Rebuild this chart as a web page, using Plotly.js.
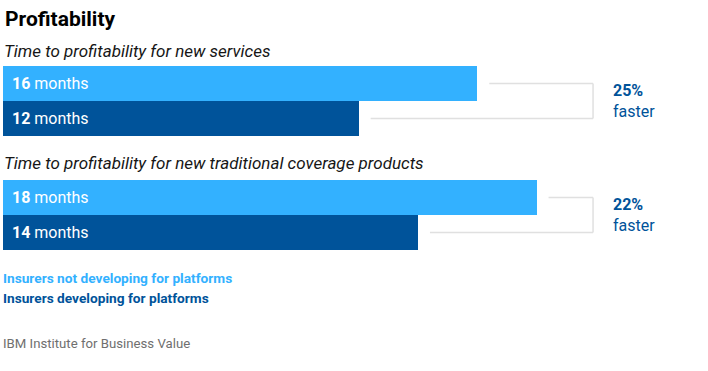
<!DOCTYPE html>
<html>
<head>
<meta charset="utf-8">
<script src="https://cdn.plot.ly/plotly-3.0.1.min.js"></script>
<style>html,body{margin:0;padding:0;background:#fff;}#chart{width:708px;height:371px;}</style>
</head>
<body>
<div id="chart"></div>
<script>
// ---- data ----
const chartTitle = "Profitability";
const groups = ["Time to profitability for new services", "Time to profitability for new traditional coverage products"];
const series = ["Insurers not developing for platforms", "Insurers developing for platforms"];
const notDeveloping = [16, 18];   // months
const developing = [12, 14];      // months
const faster = ["25%", "22%"];
const unitLabel = "months";
const source = "IBM Institute for Business Value";

// ---- styles ----
const W = 708, H = 371;
const LIGHT = "#33b1ff", DARK = "#00539a", GRAY = "#e0e0e0";
const FONT = "Roboto, 'Noto Sans', sans-serif";
const pxPerUnit = 29.65, x0px = 3;
const xmin = -x0px / pxPerUnit, xmax = xmin + W / pxPerUnit;
const py = p => 1 - p / H;     // pixel row -> paper y
const px = p => p / W;         // pixel col -> paper x
const domains = [[py(136), py(66)], [py(250), py(180)]];
const subtitleY = [51, 163];
const bracketX = 19.9, bracketGap = 0.4;

const traces = [], annotations = [], shapes = [];
groups.forEach((g, i) => {
  const yref = i === 0 ? "y" : "y2";
  const vals = [notDeveloping[i], developing[i]];
  traces.push({
    type: "bar", orientation: "h",
    x: vals, y: series,
    xaxis: "x", yaxis: yref,
    marker: {color: [LIGHT, DARK], line: {width: 0}},
    hoverinfo: "skip", showlegend: false
  });
  vals.forEach((v, j) => {
    annotations.push({
      xref: "x", yref: yref, x: 0, y: series[j], xanchor: "left", yanchor: "middle",
      xshift: 7, showarrow: false,
      text: "<b>" + v + "</b> " + unitLabel,
      font: {family: FONT, size: 16, color: "#ffffff"}
    });
  });
  // bracket
  const lineStyle = {color: GRAY, width: 1.5};
  shapes.push({type: "line", xref: "x", yref: yref, x0: vals[0] + bracketGap, x1: bracketX, y0: 0, y1: 0, line: lineStyle});
  shapes.push({type: "line", xref: "x", yref: yref, x0: bracketX, x1: bracketX, y0: 0, y1: 1, line: lineStyle});
  shapes.push({type: "line", xref: "x", yref: yref, x0: vals[1] + bracketGap, x1: bracketX, y0: 1, y1: 1, line: lineStyle});
  annotations.push({
    xref: "paper", yref: yref, x: px(611), y: 0.5, xanchor: "left", yanchor: "middle",
    showarrow: false, align: "left",
    text: "<b>" + faster[i] + "</b><br>faster",
    font: {family: FONT, size: 16, color: DARK}
  });
  annotations.push({
    xref: "paper", yref: "paper", x: px(2), y: py(subtitleY[i]), xanchor: "left", yanchor: "middle",
    showarrow: false, text: "<i>" + g + "</i>",
    font: {family: FONT, size: 17, color: "#161616"}
  });
});

annotations.push({
  xref: "paper", yref: "paper", x: px(3), y: py(19), xanchor: "left", yanchor: "middle",
  showarrow: false, text: "<b>" + chartTitle + "</b>",
  font: {family: FONT, size: 21, color: "#000000"}
});
[LIGHT, DARK].forEach((c, j) => {
  annotations.push({
    xref: "paper", yref: "paper", x: px(1), y: py(278 + 20 * j), xanchor: "left", yanchor: "middle",
    showarrow: false, text: "<b>" + series[j] + "</b>",
    font: {family: FONT, size: 13.7, color: c}
  });
});
annotations.push({
  xref: "paper", yref: "paper", x: px(1), y: py(343), xanchor: "left", yanchor: "middle",
  showarrow: false, text: source,
  font: {family: FONT, size: 13.2, color: "#6f6f6f"}
});

const hiddenY = d => ({domain: d, type: "category", autorange: "reversed", visible: false, fixedrange: true, anchor: "x"});
const layout = {
  width: W, height: H,
  margin: {l: 0, r: 0, t: 0, b: 0},
  paper_bgcolor: "#ffffff", plot_bgcolor: "#ffffff",
  bargap: 0,
  xaxis: {range: [xmin, xmax], visible: false, fixedrange: true},
  yaxis: hiddenY(domains[0]),
  yaxis2: hiddenY(domains[1]),
  shapes: shapes,
  annotations: annotations,
  showlegend: false
};
Plotly.newPlot("chart", traces, layout, {staticPlot: true, displayModeBar: false});
</script>
</body>
</html>
